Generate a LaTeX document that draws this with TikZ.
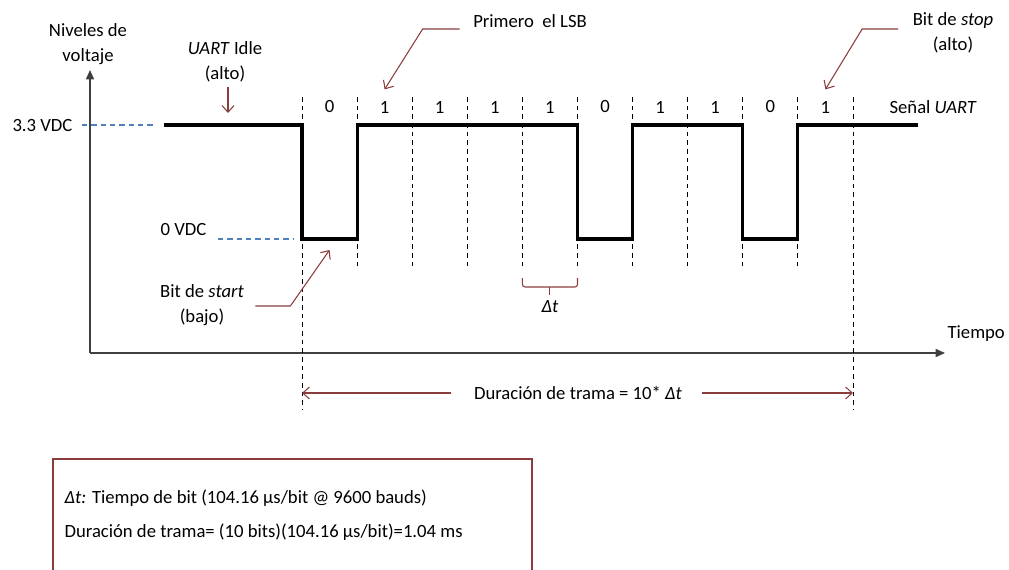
\documentclass[tikz,border=0pt]{standalone}
\usepackage{fontspec}
\setmainfont{Carlito}
\usepackage{xcolor}
\usetikzlibrary{arrows.meta, positioning, calc}

\definecolor{notered}{HTML}{8B3D3D}
\definecolor{lvlblue}{HTML}{4F81BD}
\definecolor{axisgray}{HTML}{404040}

\begin{document}
\begin{tikzpicture}[
    x=0.75pt, y=-0.75pt,
    every node/.style={font=\fontsize{14}{18.5}\selectfont, inner sep=1pt},
    txt/.style={align=center},
    signal/.style={line width=2.3pt},
    slot/.style={line width=0.75pt, dash pattern=on 3.5pt off 3pt},
    level/.style={draw=lvlblue, line width=0.8pt, dash pattern=on 4pt off 3pt},
    axis/.style={-{Triangle[length=7pt, width=6pt]}, line width=1.2pt, draw=axisgray},
    note/.style={-{Straight Barb[length=5pt, width=9pt]}, draw=notered, line width=0.8pt},
]
    \useasboundingbox (0,0) rectangle (1009,570);
    \clip (0,0) rectangle (1009,570);

    % Axes
    \coordinate (origin) at (90,353);
    \coordinate (ytop) at (90,70);
    \coordinate (xend) at (945,353);
    \draw[axis] (origin) -- (ytop);
    \draw[axis] (origin) -- (xend);
    \node[txt] (ylabel) at (88,44) {Niveles de\\voltaje};
    \node[anchor=west] (tiempo) at (946,334) {Tiempo};

    % Bit boundaries (high and low level)
    \coordinate (idle) at (164,125);
    \coordinate (sigend) at (918,125);
    \foreach \i in {0,...,10} {
        \coordinate (t\i) at ({302+55.1*\i},125);
        \coordinate (b\i) at ({302+55.1*\i},239);
    }

    % Slot lines
    \foreach \i in {1,...,9}
        \draw[slot] ({302+55.1*\i},97) -- ({302+55.1*\i},268);
    \foreach \i in {0,10}
        \draw[slot] ({302+55.1*\i},97) -- ({302+55.1*\i},410);

    % Bit values
    \foreach \b [count=\i from 0] in {0,1,1,1,1,0,1,1,0,1}
        \node (bit\i) at ({329.5+55.1*\i},107) {\b};

    % Voltage levels
    \node[anchor=east] (v33) at (74,126) {3.3 VDC};
    \node[anchor=east] (v0) at (208,230) {0 VDC};
    \draw[level] ($(v33.east |- idle)+(8,0)$) -- ($(idle)+(-9,0)$);
    \draw[level] ($(v0.east |- b0)+(10,0)$) -- ($(b0)+(-9,0)$);

    % UART signal
    \draw[signal] (idle) -- (t0) -- (b0) -- (b1) -- (t1) -- (t5) -- (b5) -- (b6)
        -- (t6) -- (t8) -- (b8) -- (b9) -- (t9) -- (sigend);
    \node[anchor=west] (senal) at (888,107) {Señal \textit{UART}};

    % Notes
    \node[txt] (idlelbl) at (225,62) {\textit{UART} Idle\\(alto)};
    \draw[note] ($(idle -| idlelbl)+(3,-38)$) -- ($(idle -| idlelbl)+(3,-12)$);

    \node (lsb) at (530,21) {Primero\ \ el LSB};
    \draw[note] ($(lsb.west)+(-12,8)$) -- ($(lsb.west)+(-49,8)$) -- ($(bit1.north)+(0,-10)$);

    \node[txt] (stop) at (953,33) {Bit de \textit{stop}\\(alto)};
    \draw[note] ($(stop.west)+(-13,-4)$) -- ($(stop.west)+(-49,-4)$) -- ($(bit9.north)+(0,-10)$);

    \node[txt] (start) at (202,305) {Bit de \textit{start}\\(bajo)};
    \draw[note] ($(start.east)+(10,1)$) -- ($(start.east)+(45,1)$) -- ($(b0)!0.5!(b1)+(0,11)$);

    % Bit time
    \coordinate (mid) at ($(t4)!0.5!(t5)$);
    \draw[notered, line width=0.8pt, rounded corners=2pt]
        (t4 |- 0,278) -- (t4 |- 0,287) -- (t5 |- 0,287) -- (t5 |- 0,278);
    \draw[notered, line width=0.8pt] (mid |- 0,287) -- (mid |- 0,295);
    \node (dt) at (mid |- 0,307) {\textit{Δt}};

    % Frame duration
    \node (dur) at (578,393) {Duración de trama = 10* \textit{Δt}};
    \draw[note] ($(dur.west)+(-21,0)$) -- (t0 |- dur);
    \draw[note] ($(dur.east)+(18,0)$) -- (t10 |- dur);

    % Legend box
    \draw[notered, line width=0.8pt] (53,590) -- (53,459) -- (532,459) -- (532,590);
    \node[anchor=west] (defdt) at (63,498) {\textit{Δt:} Tiempo de bit (104.16 µs/bit @ 9600 bauds)};
    \node[anchor=west] (defdur) at (63,532) {Duración de trama= (10 bits)(104.16 µs/bit)=1.04 ms};
\end{tikzpicture}
\end{document}
